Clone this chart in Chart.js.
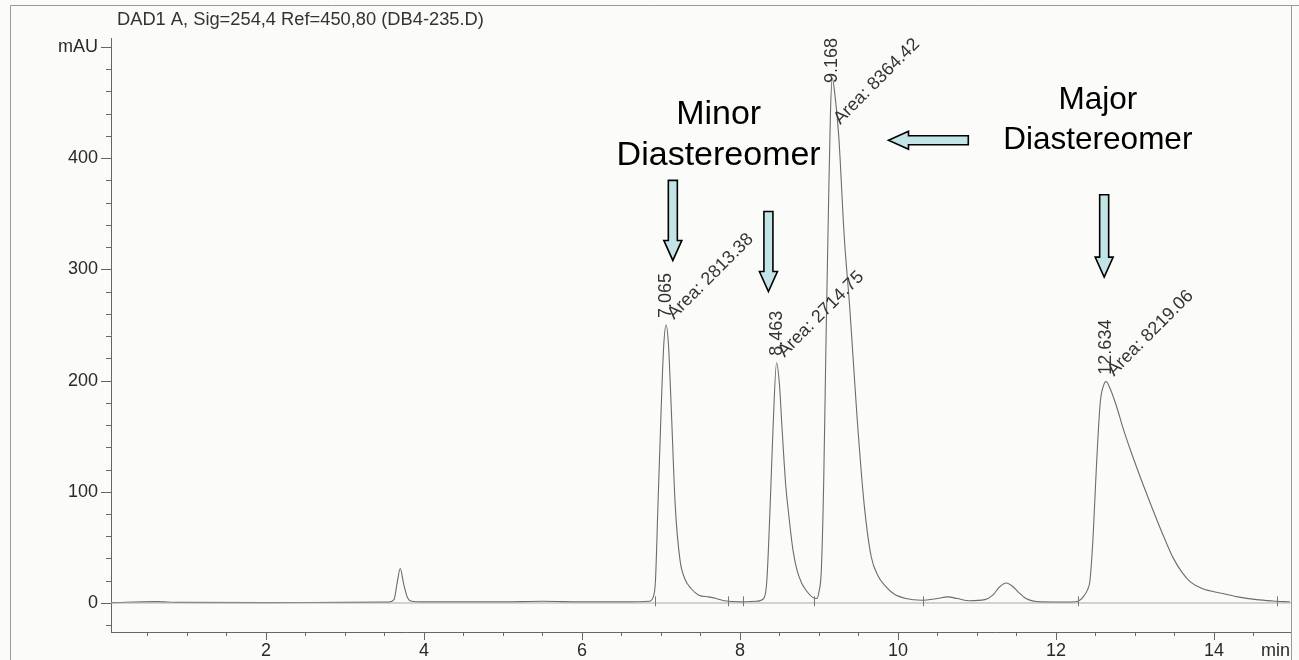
<!DOCTYPE html>
<html>
<head>
<meta charset="utf-8">
<title>DAD1 A chromatogram</title>
<script src="https://cdn.jsdelivr.net/npm/chart.js@4/dist/chart.umd.min.js"></script>
<style>
  html, body { margin: 0; padding: 0; background: #fbfbfa; }
  canvas { display: block; }
</style>
</head>
<body>
<canvas id="chrom" width="1299" height="660"></canvas>
<script>
// Detector trace: retention time (min) and absorbance (mAU)
const timeMin = [
  0.04, 0.6, 0.9, 2.0, 3.0, 3.55, 3.62, 3.66, 3.70, 3.74, 3.79, 3.85, 3.95,
  5.0, 5.5, 6.0, 6.6, 6.85, 6.90, 6.93, 6.96, 7.00, 7.035, 7.065, 7.095, 7.13,
  7.18, 7.24, 7.30, 7.38, 7.48, 7.60, 7.70, 7.80, 8.00, 8.20, 8.30, 8.34, 8.38,
  8.42, 8.463, 8.50, 8.53, 8.58, 8.61, 8.67, 8.72, 8.78, 8.84, 8.92, 8.97, 9.00,
  9.03, 9.06, 9.09, 9.12, 9.145, 9.168, 9.20, 9.25, 9.32, 9.39, 9.48, 9.57, 9.66,
  9.75, 9.83, 9.95, 10.1, 10.3, 10.5, 10.63, 10.75, 10.9, 11.1, 11.2, 11.28,
  11.37, 11.45, 11.52, 11.62, 11.8, 12.2, 12.28, 12.34, 12.40, 12.43, 12.47,
  12.51, 12.56, 12.60, 12.634, 12.69, 12.77, 12.85, 12.94, 13.10, 13.27, 13.38,
  13.48, 13.60, 13.70, 13.85, 14.11, 14.30, 14.54, 14.75, 14.96
];
const signal = [
  0.3, 1.2, 0.5, 0.3, 0.5, 0.8, 3, 18, 31, 18, 5, 1.5, 1,
  1, 1.5, 1, 1, 1.5, 5, 20, 84, 170, 232, 250, 232, 175,
  88, 39, 22, 13, 7, 5.5, 4, 2, 1, 1.5, 4, 20, 84,
  160, 216, 196, 160, 105, 84, 48, 30, 18, 11, 5, 4, 10,
  30, 110, 240, 355, 440, 472, 458, 420, 329, 265, 169, 90, 42,
  24, 16, 8, 4, 2.5, 4, 5.5, 4, 2, 3, 7, 14,
  18, 15, 10, 4, 1, 0.8, 1.5, 5, 12, 20, 60,
  120, 180, 195, 199, 192, 176, 157, 138, 107, 76, 57,
  41, 27, 19, 13, 8.5, 5.5, 3, 1.8, 1
];

// Integrated peaks
const peakTimes = [7.065, 8.463, 9.168, 12.634];
const peakHeights = [250, 216, 472, 199];
const peakAreas = ['2813.38', '2714.75', '8364.42', '8219.06'];

// Integration event marks on the baseline (min)
const eventTimes = [6.93, 7.85, 8.04, 8.94, 10.32, 12.28, 14.8];

// Axis labelling
const xLabelTimes = [2, 4, 6, 8, 10, 12, 14];
const yLabelValues = [0, 100, 200, 300, 400];
const yUnitValue = 500;
const yUnitLabel = 'mAU';
const xUnitLabel = 'min';
const titleText = 'DAD1 A, Sig=254,4 Ref=450,80 (DB4-235.D)';

// Hand-drawn call-outs, in axis units (min, mAU)
const downArrows = [
  { t: 7.15, from: 380, to: 308 },
  { t: 8.36, from: 352, to: 280 },
  { t: 12.61, from: 367, to: 293 }
];
const leftArrows = [
  { v: 416, from: 10.89, to: 9.88 }
];
const noteLines = [
  { text: 'Minor', t: 7.73, v: 431, size: 34 },
  { text: 'Diastereomer', t: 7.73, v: 394, size: 34 },
  { text: 'Major', t: 12.53, v: 444, size: 31.5 },
  { text: 'Diastereomer', t: 12.53, v: 408, size: 31.5 }
];

const FONT = '"Liberation Sans", Arial, Helvetica, sans-serif';
const INK = '#2a2a2a';

const trace = timeMin.map((t, i) => ({ x: t, y: signal[i] }));

const decorations = {
  id: 'decorations',
  beforeDraw(chart) {
    const c = chart.ctx;
    c.save();
    c.fillStyle = '#fbfbfa';
    c.fillRect(0, 0, chart.width, chart.height);
    c.restore();
  },
  afterDraw(chart) {
    const c = chart.ctx;
    const xs = chart.scales.x, ys = chart.scales.y;
    const area = chart.chartArea;
    c.save();

    // page frame
    c.strokeStyle = '#9a9a9a';
    c.lineWidth = 1;
    c.beginPath();
    c.moveTo(10.5, 660); c.lineTo(10.5, 5.5); c.lineTo(1299, 5.5);
    c.moveTo(Math.round(area.right) + 0.5, 5.5); c.lineTo(Math.round(area.right) + 0.5, 660);
    c.stroke();

    // title
    c.fillStyle = '#333';
    c.font = '18.3px ' + FONT;
    c.textAlign = 'left';
    c.textBaseline = 'alphabetic';
    c.fillText(titleText, 117, 25);

    // y and x tick marks
    c.strokeStyle = '#666';
    c.beginPath();
    ys.ticks.forEach(tk => {
      const y = Math.round(ys.getPixelForValue(tk.value)) + 0.5;
      const major = Math.abs(tk.value % 100) < 1e-6;
      c.moveTo(area.left - (major ? 10 : 5), y);
      c.lineTo(area.left, y);
    });
    xs.ticks.forEach(tk => {
      const x = Math.round(xs.getPixelForValue(tk.value)) + 0.5;
      const major = Math.abs(tk.value % 2) < 1e-6;
      c.moveTo(x, area.bottom);
      c.lineTo(x, area.bottom + (major ? 8 : 4));
    });
    c.stroke();

    c.fillStyle = INK;
    c.font = '18px ' + FONT;
    c.textAlign = 'right';
    c.textBaseline = 'middle';
    yLabelValues.forEach(v => c.fillText(String(v), area.left - 13, ys.getPixelForValue(v)));
    c.fillText(yUnitLabel, area.left - 13, ys.getPixelForValue(yUnitValue));

    c.textAlign = 'center';
    c.textBaseline = 'top';
    xLabelTimes.forEach(t => c.fillText(String(t), xs.getPixelForValue(t), area.bottom + 10));
    c.textAlign = 'right';
    c.fillText(xUnitLabel, area.right - 1, area.bottom + 10);

    // baseline event marks
    c.strokeStyle = '#777';
    c.beginPath();
    eventTimes.forEach(t => {
      const x = Math.round(xs.getPixelForValue(t)) + 0.5;
      c.moveTo(x, ys.getPixelForValue(-3));
      c.lineTo(x, ys.getPixelForValue(6));
    });
    c.stroke();

    // peak labels: retention time (vertical) and area (diagonal)
    c.fillStyle = '#333';
    c.font = '18px ' + FONT;
    peakTimes.forEach((t, i) => {
      const px = xs.getPixelForValue(t);
      const py = ys.getPixelForValue(peakHeights[i]);
      const rt = t.toFixed(3);
      const rtLen = c.measureText(rt).width;
      const rtBottom = Math.max(py - 7, area.top + rtLen);
      c.save();
      c.translate(px, rtBottom);
      c.rotate(-Math.PI / 2);
      c.textAlign = 'left';
      c.textBaseline = 'middle';
      c.fillText(rt, 0, 0);
      c.restore();

      const txt = 'Area: ' + peakAreas[i];
      const len = c.measureText(txt).width;
      const startY = Math.max(py - 5, area.top + 7 + len * Math.SQRT1_2);
      c.save();
      c.translate(px + 8, startY);
      c.rotate(-Math.PI / 4);
      c.textAlign = 'left';
      c.textBaseline = 'alphabetic';
      c.fillText(txt, 0, 0);
      c.restore();
    });

    // call-out arrows
    c.fillStyle = '#c3e4e7';
    c.strokeStyle = '#000';
    c.lineWidth = 1.6;
    c.lineJoin = 'miter';
    const shaft = 4.5, head = 9, headLen = 20;
    downArrows.forEach(a => {
      const x = xs.getPixelForValue(a.t);
      const y0 = ys.getPixelForValue(a.from);
      const y1 = ys.getPixelForValue(a.to);
      c.beginPath();
      c.moveTo(x - shaft, y0);
      c.lineTo(x + shaft, y0);
      c.lineTo(x + shaft, y1 - headLen);
      c.lineTo(x + head, y1 - headLen);
      c.lineTo(x, y1);
      c.lineTo(x - head, y1 - headLen);
      c.lineTo(x - shaft, y1 - headLen);
      c.closePath();
      c.fill();
      c.stroke();
    });
    leftArrows.forEach(a => {
      const y = ys.getPixelForValue(a.v);
      const x0 = xs.getPixelForValue(a.from);
      const x1 = xs.getPixelForValue(a.to);
      c.beginPath();
      c.moveTo(x0, y - shaft);
      c.lineTo(x0, y + shaft);
      c.lineTo(x1 + headLen, y + shaft);
      c.lineTo(x1 + headLen, y + head);
      c.lineTo(x1, y);
      c.lineTo(x1 + headLen, y - head);
      c.lineTo(x1 + headLen, y - shaft);
      c.closePath();
      c.fill();
      c.stroke();
    });

    // call-out text
    c.fillStyle = '#000';
    c.textAlign = 'center';
    c.textBaseline = 'alphabetic';
    noteLines.forEach(n => {
      c.font = n.size + 'px ' + FONT;
      c.fillText(n.text, xs.getPixelForValue(n.t), ys.getPixelForValue(n.v));
    });

    c.restore();
  }
};

new Chart(document.getElementById('chrom'), {
  type: 'line',
  data: {
    datasets: [
      {
        label: 'baseline',
        data: [{ x: 0.038, y: 0 }, { x: 14.975, y: 0 }],
        borderColor: '#a8a8a8',
        borderWidth: 1,
        pointRadius: 0,
        tension: 0
      },
      {
        label: 'DAD1 A',
        data: trace,
        borderColor: '#6c6c6c',
        borderWidth: 1.1,
        pointRadius: 0,
        cubicInterpolationMode: 'monotone'
      }
    ]
  },
  options: {
    responsive: false,
    devicePixelRatio: 1,
    animation: false,
    events: [],
    layout: { padding: { left: 0, right: 8, top: 38, bottom: 0 } },
    plugins: {
      legend: { display: false },
      tooltip: { enabled: false },
      title: { display: false }
    },
    scales: {
      x: {
        type: 'linear',
        min: 0.038,
        max: 14.975,
        afterFit: s => { s.height = 28; },
        ticks: { display: false, stepSize: 0.5, includeBounds: false, autoSkip: false },
        grid: { display: false },
        border: { display: true, color: '#666', width: 1 }
      },
      y: {
        type: 'linear',
        min: -26.1,
        max: 508,
        afterFit: s => { s.width = 111; },
        ticks: { display: false, stepSize: 20, includeBounds: false },
        grid: { display: false },
        border: { display: true, color: '#666', width: 1 }
      }
    }
  },
  plugins: [decorations]
});
</script>
</body>
</html>
